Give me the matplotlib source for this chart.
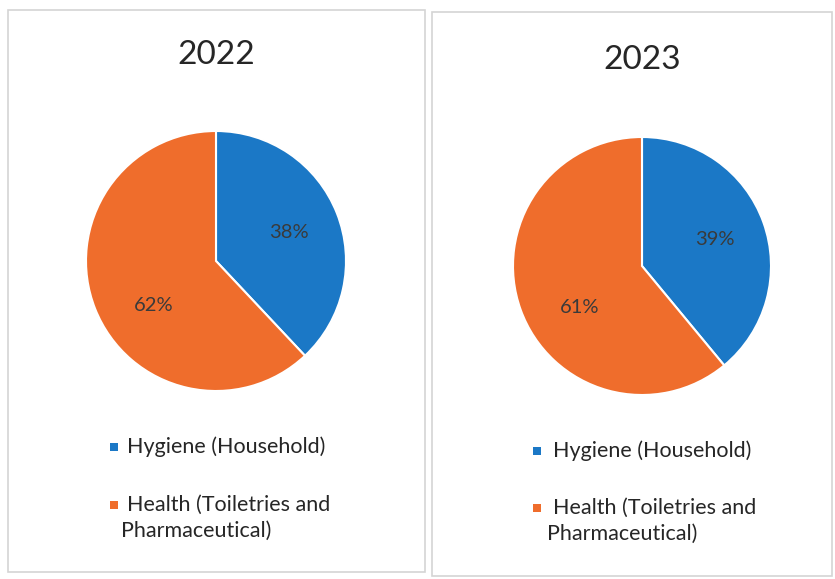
import matplotlib
matplotlib.use('Agg')
import matplotlib.pyplot as plt
from matplotlib.patches import Rectangle

plt.rcParams['font.family'] = ['Lato', 'DejaVu Sans']

years = ['2022', '2023']
categories = ['Hygiene (Household)', 'Health (Toiletries and\nPharmaceutical)']
shares_2022 = [38, 62]
shares_2023 = [39, 61]
colors = ['#1b78c6', '#ef6d2c']
label_color = '#3a3a3a'

W, H = 835, 579
fig = plt.figure(figsize=(W / 100, H / 100), dpi=100)
fig.patch.set_facecolor('white')


def fx(px):
    return px / W


def fy(py):
    return 1 - py / H


# panel frames (pixels: x, y-top, w, h)
frames = [(8, 10, 417, 562), (432, 12, 400, 564)]
for x0, y0, w, h in frames:
    fig.patches.append(Rectangle((fx(x0), fy(y0 + h)), w / W, h / H,
                                 transform=fig.transFigure, fill=False,
                                 edgecolor='#d4d4d4', linewidth=1.2))

panels = [
    # cx, cy, r, title y, legend marker x, text x, legend row ys
    (216, 261, 130, 55, 114, 127, [447, 505], shares_2022, years[0]),
    (642, 266, 129, 60, 537, 553, [451, 508], shares_2023, years[1]),
]

for cx, cy, r, ty, mx, tx, rows, shares, yr in panels:
    ax = fig.add_axes([fx(cx - r), fy(cy + r), 2 * r / W, 2 * r / H])
    wedges, texts, autotexts = ax.pie(
        shares, colors=colors, startangle=90, counterclock=False,
        autopct='%1.0f%%', pctdistance=0.6,
        wedgeprops=dict(edgecolor='white', linewidth=1.5),
        textprops=dict(fontsize=14.5, color=label_color))
    # 2nd label sits a bit lower/inward in the original
    x, y = autotexts[1].get_position()
    autotexts[1].set_position((x + 0.08, y - 0.12))
    ax.set_xlim(-1, 1)
    ax.set_ylim(-1, 1)
    ax.axis('off')

    fig.text(fx(cx), fy(ty), yr, ha='center', va='center',
             fontsize=24, color='#262626')

    # legend drawn by hand so the marker sits on the first line
    for cat, col, ry in zip(categories, colors, rows):
        fig.patches.append(Rectangle((fx(mx - 4), fy(ry + 4)), 8 / W, 8 / H,
                                     transform=fig.transFigure,
                                     facecolor=col, edgecolor='none'))
        for i, line in enumerate(cat.split('\n')):
            lx = tx if i == 0 else tx - 6
            fig.text(fx(lx), fy(ry + 26 * i), line, ha='left', va='center',
                     fontsize=15.5, color='#262626')

fig.savefig('out.png', dpi=100, facecolor='white')
